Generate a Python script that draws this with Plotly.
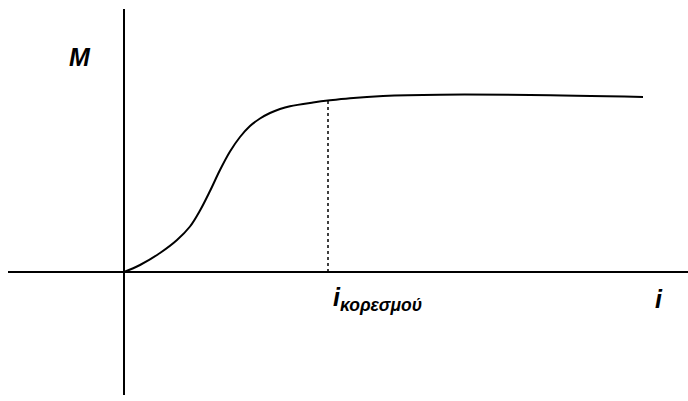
import plotly.graph_objects as go

# Magnetisation curve M(i): rises from the origin and saturates
current = [0.0, 0.16, 0.36, 0.53, 0.66, 0.76, 0.86, 0.96, 1.06, 1.16, 1.26,
           1.36, 1.46, 1.56, 1.66, 1.89, 2.06, 2.26, 2.59, 3.16, 4.06, 5.19]
magnet = [0.0, 0.07, 0.19, 0.32, 0.455, 0.615, 0.81, 1.02, 1.205, 1.35, 1.46,
          1.535, 1.59, 1.63, 1.658, 1.695, 1.717, 1.738, 1.760, 1.773, 1.770, 1.750]

# Saturation current and the magnetisation reached there
i_sat = 2.04
m_sat = 1.715

axis_labels = ["M", "i"]
sat_label = "κορεσμού"

fig = go.Figure()

fig.add_trace(go.Scatter(
    x=current, y=magnet, mode="lines",
    line=dict(color="black", width=2, shape="spline", smoothing=1.0),
    hoverinfo="skip", showlegend=False,
))

fig.add_trace(go.Scatter(
    x=[i_sat, i_sat], y=[0, m_sat], mode="lines",
    line=dict(color="black", width=1.5, dash="dot"),
    hoverinfo="skip", showlegend=False,
))

label_font = dict(family="Liberation Sans, Arial, sans-serif", size=25, color="black")

fig.add_annotation(x=-0.44, y=2.15, text=f"<b><i>{axis_labels[0]}</i></b>",
                   showarrow=False, font=label_font, xanchor="center", yanchor="middle")
fig.add_annotation(x=5.35, y=-0.27, text=f"<b><i>{axis_labels[1]}</i></b>",
                   showarrow=False, font=label_font, xanchor="center", yanchor="middle")
fig.add_annotation(x=i_sat + 0.03, y=-0.27,
                   text=f"<b><i>{axis_labels[1]}<sub>{sat_label}</sub></i></b>",
                   showarrow=False, font=label_font, xanchor="left", yanchor="middle")

axis_common = dict(showgrid=False, showticklabels=False, ticks="", showline=False,
                   zeroline=True, zerolinecolor="black", zerolinewidth=2,
                   fixedrange=True)

fig.update_layout(
    width=688, height=401,
    margin=dict(l=8, r=0, t=9, b=6),
    paper_bgcolor="white", plot_bgcolor="white",
    xaxis=dict(range=[-1.16, 5.64], **axis_common),
    yaxis=dict(range=[-1.23, 2.63], **axis_common),
)

fig.write_html("out.html")
